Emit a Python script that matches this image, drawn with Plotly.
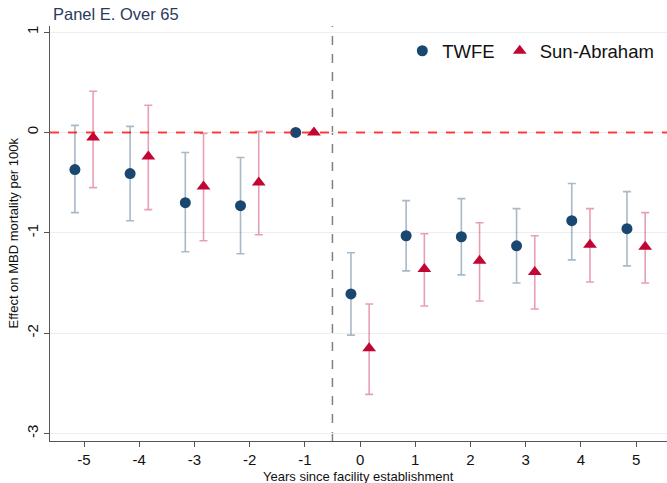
import plotly.graph_objects as go

years = [-5, -4, -3, -2, -1, 0, 1, 2, 3, 4, 5]
twfe_est = [-0.37, -0.41, -0.70, -0.73, 0.0, -1.61, -1.03, -1.04, -1.13, -0.88, -0.96]
twfe_lo = [-0.80, -0.88, -1.19, -1.21, 0.0, -2.02, -1.38, -1.42, -1.50, -1.27, -1.33]
twfe_hi = [0.07, 0.06, -0.20, -0.25, 0.0, -1.20, -0.68, -0.66, -0.76, -0.51, -0.59]
sa_est = [-0.05, -0.24, -0.54, -0.50, 0.0, -2.15, -1.36, -1.28, -1.39, -1.12, -1.14]
sa_lo = [-0.55, -0.77, -1.08, -1.02, 0.0, -2.61, -1.73, -1.68, -1.76, -1.49, -1.50]
sa_hi = [0.41, 0.27, -0.01, 0.01, 0.0, -1.71, -1.01, -0.90, -1.03, -0.76, -0.80]
x_ticks = [-5, -4, -3, -2, -1, 0, 1, 2, 3, 4, 5]
y_ticks = [1, 0, -1, -2, -3]

OFF = 0.165
X_RANGE = [-5.616, 5.56]
Y_RANGE = [-3.075, 1.06]
FONT = "Liberation Sans, Arial, Helvetica, sans-serif"
NAVY = "#1a476f"
RED = "#c10534"

fig = go.Figure()

fig.add_shape(type="line", xref="paper", yref="y", x0=0, x1=1, y0=0, y1=0,
              line=dict(color="red", width=2, dash="dash"), opacity=0.75, layer="above")
fig.add_shape(type="line", xref="x", yref="paper", x0=-0.5, x1=-0.5, y0=0, y1=1,
              line=dict(color="#808080", width=1.5, dash="dash"), layer="below")

def add_series(est, lo, hi, shift, name, color, ecolor, symbol, size):
    xs = [y + shift for y in years]
    fig.add_trace(go.Scatter(
        x=xs, y=est, mode="markers", name=name,
        marker=dict(color=color, symbol=symbol, size=size, line=dict(width=0)),
        error_y=dict(type="data", symmetric=False,
                     array=[h - e for h, e in zip(hi, est)],
                     arrayminus=[e - l for e, l in zip(est, lo)],
                     color=ecolor, thickness=1.6, width=4),
    ))

add_series(twfe_est, twfe_lo, twfe_hi, -OFF, "TWFE", NAVY, "rgba(26,71,111,0.38)", "circle", 11)
add_series(sa_est, sa_lo, sa_hi, OFF, "Sun-Abraham", RED, "rgba(193,5,52,0.38)", "triangle-up", 12)

fig.update_layout(
    width=667, height=483,
    margin=dict(l=50, r=0, t=26, b=42, autoexpand=False),
    paper_bgcolor="white", plot_bgcolor="white",
    font=dict(family=FONT, color="#222222"),
    showlegend=True,
    legend=dict(orientation="h", x=0.571, y=0.985, xanchor="left", yanchor="top",
                font=dict(size=18.5, color="#111111"), bgcolor="rgba(0,0,0,0)",
                itemwidth=30),
    annotations=[
        dict(text="Panel E. Over 65", xref="paper", yref="paper",
             x=0.002, y=1.0, xanchor="left", yanchor="bottom", yshift=1,
             showarrow=False, font=dict(size=16.5, color="#2b3a5c", family=FONT)),
        dict(text="Years since facility establishment", xref="paper", yref="paper",
             x=0.5, y=0, xanchor="center", yanchor="top", yshift=-26,
             showarrow=False, font=dict(size=13, color="#111111", family=FONT)),
        dict(text="Effect on MBD mortality per 100k", xref="paper", yref="paper",
             x=0, y=0.5, xanchor="center", yanchor="middle", xshift=-37, textangle=-90,
             showarrow=False, font=dict(size=13, color="#111111", family=FONT)),
    ],
    xaxis=dict(range=X_RANGE, tickvals=x_ticks, ticktext=[str(v) for v in x_ticks],
               showgrid=False, zeroline=False, showline=True, linecolor="#555555", linewidth=1.3,
               ticks="outside", ticklen=5, tickcolor="#555555", tickfont=dict(size=15, color="#111111"),
               automargin=False),
    yaxis=dict(range=Y_RANGE, tickvals=y_ticks, ticktext=[str(v) for v in y_ticks],
               showgrid=True, gridcolor="#eaf0f2", gridwidth=1, zeroline=False,
               showline=True, linecolor="#555555", linewidth=1.3,
               ticks="outside", ticklen=5, tickcolor="#555555", tickangle=-90,
               tickfont=dict(size=15, color="#111111"), automargin=False),
)

fig.write_html("out.html", config={"displayModeBar": False},
               post_script="document.body.style.margin='0';document.body.style.overflow='hidden';")
